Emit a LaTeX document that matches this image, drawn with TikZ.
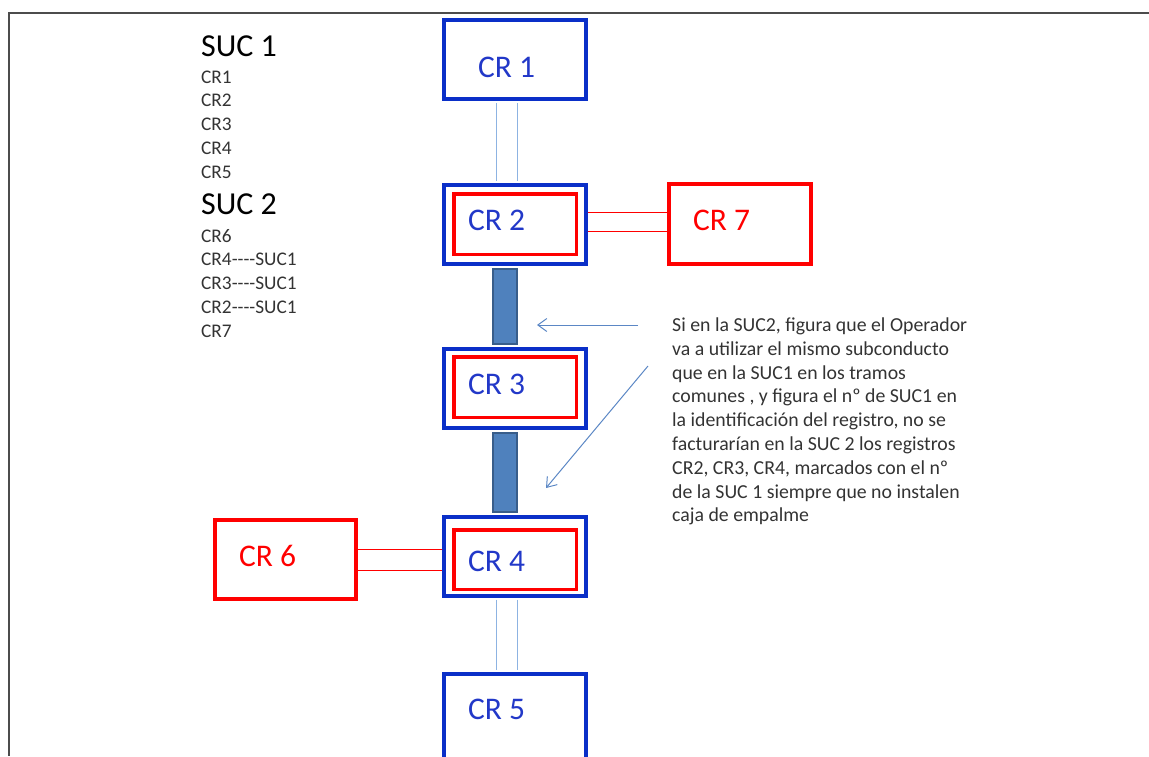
\documentclass[tikz,border=0pt]{standalone}
\usepackage{fontspec}
\setmainfont{Carlito}
\usetikzlibrary{arrows.meta}

\definecolor{boxblue}{HTML}{0A2FC8}
\definecolor{textblue}{HTML}{2238C8}
\definecolor{boxred}{HTML}{FF0000}
\definecolor{linkblue}{HTML}{8DB3E2}
\definecolor{barfill}{HTML}{4F81BD}
\definecolor{baredge}{HTML}{385D8A}
\definecolor{arrowblue}{HTML}{5B87C5}
\definecolor{notegray}{HTML}{333333}

\begin{document}
\begin{tikzpicture}[x=1pt,y=-1pt]
    % Styles
    \tikzset{
        bluebox/.style={draw=boxblue, line width=4pt, minimum width=142pt, minimum height=79pt, inner sep=0pt},
        redbox/.style={draw=boxred, line width=4pt, minimum width=141pt, minimum height=79pt, inner sep=0pt},
        innerbox/.style={draw=boxred, line width=3.5pt, minimum width=122.5pt, minimum height=60.5pt, inner sep=0pt},
        boxlabel/.style={anchor=west, inner sep=0pt, font=\fontsize{31.5}{31.5}\selectfont},
        headtext/.style={anchor=west, inner sep=0pt, text=black, font=\fontsize{32}{32}\selectfont},
        listtext/.style={anchor=west, inner sep=0pt, text=notegray, font=\fontsize{19.3}{19.3}\selectfont},
        notetext/.style={anchor=north west, inner sep=0pt, align=left, text=notegray, font=\fontsize{19.8}{23.8}\selectfont},
        bluelink/.style={draw=linkblue, line width=1pt},
        redlink/.style={draw=boxred, line width=0.9pt},
        bar/.style={fill=barfill, draw=baredge, line width=2pt},
        notearrow/.style={draw=arrowblue, line width=1pt, -{Straight Barb[length=9pt,width=13pt]}},
        frame/.style={draw=black!70, line width=1.5pt}
    }

    \useasboundingbox (0,0) rectangle (1149,756);

    % Page frame
    \draw[frame] (1149,13) -- (9,13) -- (9,756);

    % Main line of boxes
    \node[bluebox] (cr1) at (515,59.5) {};
    \node[bluebox] (cr2) at (515,224) {};
    \node[bluebox] (cr3) at (515,388) {};
    \node[bluebox] (cr4) at (515,556) {};
    \node[bluebox, minimum height=88pt] (cr5) at (515,718) {};

    % Red boxes inside
    \node[innerbox] (cr2in) at (515,224) {};
    \node[innerbox] (cr3in) at (515,387) {};
    \node[innerbox, minimum height=59.5pt] (cr4in) at (515,559.5) {};

    % Side boxes
    \node[redbox] (cr6) at (285.5,559.5) {};
    \node[redbox, minimum width=142pt, minimum height=80pt] (cr7) at (740,224) {};

    % Box labels
    \node[boxlabel, text=textblue] (cr1txt) at (478,67) {CR 1};
    \node[boxlabel, text=textblue] (cr2txt) at (468,220) {CR 2};
    \node[boxlabel, text=textblue] (cr3txt) at (468,384) {CR 3};
    \node[boxlabel, text=textblue] (cr4txt) at (468,561) {CR 4};
    \node[boxlabel, text=textblue] (cr5txt) at (468,709) {CR 5};
    \node[boxlabel, text=boxred] (cr6txt) at (239,556) {CR 6};
    \node[boxlabel, text=boxred] (cr7txt) at (693,220) {CR 7};

    % Thin double links
    \foreach \a/\b in {cr1/cr2, cr4/cr5}
        \foreach \dx in {-19,2}
            \draw[bluelink] ([xshift=\dx pt,yshift=-2pt]\a.south) -- ([xshift=\dx pt,yshift=2pt]\b.north);

    % Shared subduct (thick bars)
    \draw[bar] ([xshift=-22pt,yshift=-3pt]cr2.south) rectangle ([xshift=2pt,yshift=3pt]cr3.north);
    \draw[bar] ([xshift=-22pt,yshift=-3pt]cr3.south) rectangle ([xshift=2pt,yshift=3pt]cr4.north);

    % Red branches
    \draw[redlink] ([yshift=12pt]cr2.east) -- ([yshift=12pt]cr7.west);
    \draw[redlink] ([yshift=-7pt]cr2.east) -- ([yshift=-7pt]cr7.west);
    \draw[redlink] ([yshift=10.5pt]cr6.east) -- ([yshift=7pt]cr4.west);
    \draw[redlink] ([yshift=-10.5pt]cr6.east) -- ([yshift=-14pt]cr4.west);

    % Lists
    \node[headtext] (suc1) at (201,46.5) {SUC 1};
    \foreach \t [count=\i] in {CR1,CR2,CR3,CR4,CR5}
        \node[listtext] (suca\i) at (201,53.3+23.7*\i) {\t};
    \node[headtext] (suc2) at (201,204) {SUC 2};
    \foreach \t [count=\i] in {CR6,CR4-{}-{}-{}-SUC1,CR3-{}-{}-{}-SUC1,CR2-{}-{}-{}-SUC1,CR7}
        \node[listtext] (sucb\i) at (201,212.3+23.7*\i) {\t};

    % Note
    \node[notetext] (note) at (672,317.5) {Si en la SUC2, figura que el Operador\\
        va a utilizar el mismo subconducto\\
        que en la SUC1 en los tramos\\
        comunes , y figura el nº de SUC1 en\\
        la identificación del registro, no se\\
        facturarían en la SUC 2 los registros\\
        CR2, CR3, CR4, marcados con el nº\\
        de la SUC 1 siempre que no instalen\\
        caja de empalme};

    % Arrows from the note
    \coordinate (arra) at (638,325);
    \coordinate (arratip) at (537,325);
    \coordinate (arrb) at (648,366);
    \coordinate (arrbtip) at (546,488);
    \draw[notearrow] (arra) -- (arratip);
    \draw[notearrow] (arrb) -- (arrbtip);

\end{tikzpicture}
\end{document}
